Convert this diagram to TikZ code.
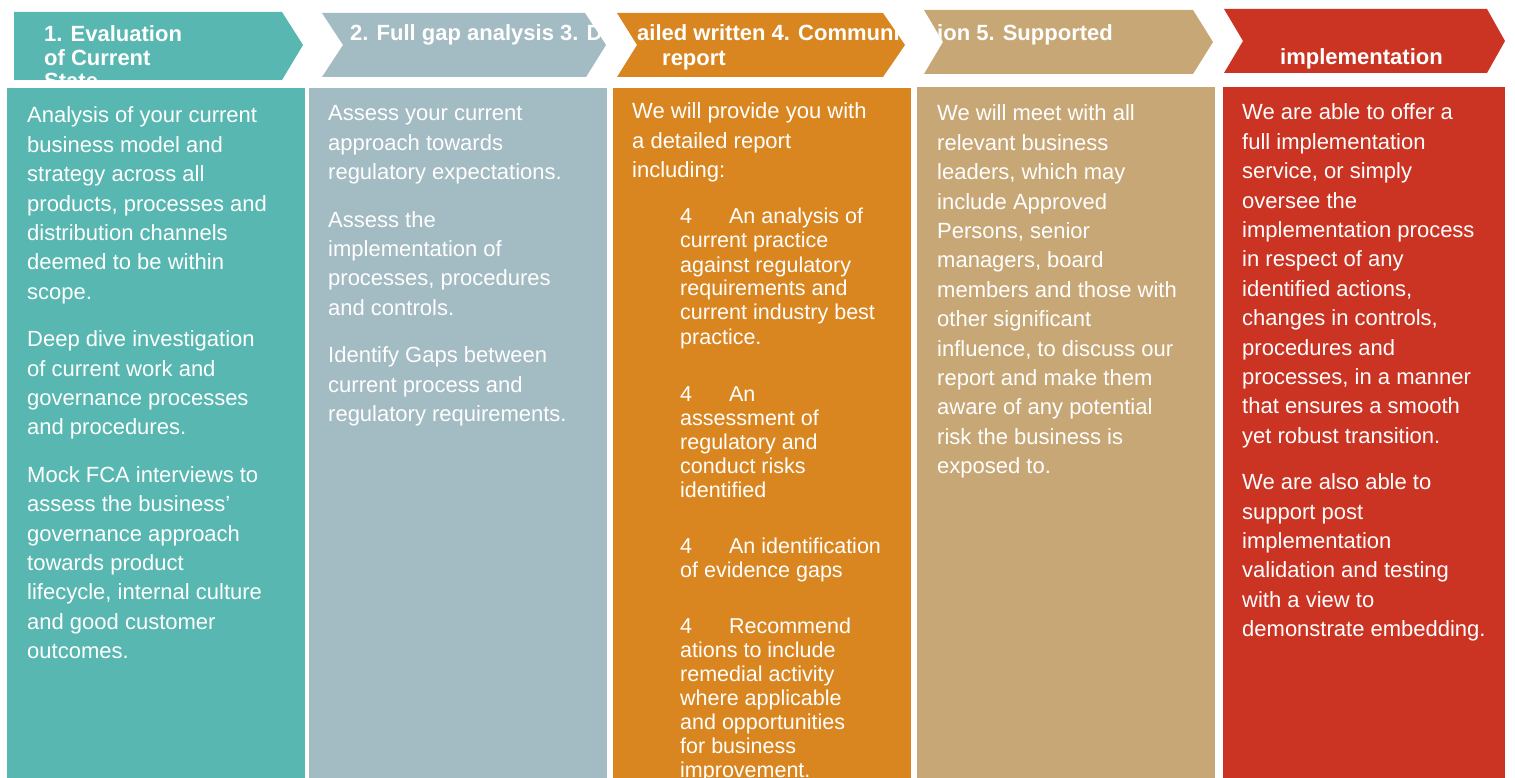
\documentclass[tikz,border=0pt]{standalone}
\usepackage{fontspec}
\setmainfont{Liberation Sans}
\definecolor{tealc}{HTML}{58B7B1}
\definecolor{greyc}{HTML}{A3BBC2}
\definecolor{orangec}{HTML}{D98621}
\definecolor{tanc}{HTML}{C8A776}
\definecolor{redc}{HTML}{CB3323}
% first line of the box sits on the node's base
\newcommand{\colbox}[1]{\parbox[t]{300pt}{\raggedright #1}}

\begin{document}
\begin{tikzpicture}[x=1pt,y=-1pt,
	hdrtxt/.style={anchor=base west, inner sep=0pt, text=white,
		font=\bfseries\fontsize{22}{23.5}\selectfont},
	bodytxt/.style={anchor=base west, inner sep=0pt, text=white,
		font=\fontsize{22}{29.4}\selectfont},
	bullettxt/.style={bodytxt, font=\fontsize{21.5}{24}\selectfont}]
	\useasboundingbox (0,0) rectangle (1515,778);

	% columns
	\fill[tealc] (7,88) rectangle (305,778);
	\fill[greyc] (309,88) rectangle (607,778);
	\fill[orangec] (613,88) rectangle (911,778);
	\fill[tanc] (917,87) rectangle (1215,778);
	\fill[redc] (1223,87) rectangle (1505,778);

	% chevrons, header text clipped to each one
	\begin{scope}
		\clip (14,12) -- (282,12) -- (303,45) -- (282,80) -- (14,80) -- cycle;
		\fill[tealc] (0,0) rectangle (320,100);
		\node[hdrtxt] (h1) at (44,42) {\colbox{1. Evaluation\\of Current\\State}};
	\end{scope}
	\begin{scope}
		\clip (322,13) -- (585,13) -- (606,45) -- (586,77) -- (322,77) -- (343,45) -- cycle;
		\fill[greyc] (300,0) rectangle (620,100);
		\node[hdrtxt] (h2) at (350,41) {2. Full gap analysis 3. D};
	\end{scope}
	\begin{scope}
		\clip (617,13) -- (883,13) -- (905,45) -- (883,77) -- (617,77) -- (637,45) -- cycle;
		\fill[orangec] (600,0) rectangle (920,100);
		\node[hdrtxt] (h3) at (637,41) {ailed written 4. Communi};
		\node[hdrtxt] (h3b) at (662,66) {report};
	\end{scope}
	\begin{scope}
		\clip (924,10) -- (1193,10) -- (1213,42) -- (1193,74) -- (924,74) -- (943,42) -- cycle;
		\fill[tanc] (900,0) rectangle (1220,100);
		\node[hdrtxt] (h4) at (937,41) {ion 5. Supported};
	\end{scope}
	\begin{scope}
		\clip (1224,9) -- (1487,9) -- (1505,41) -- (1487,73) -- (1224,73) -- (1243,41) -- cycle;
		\fill[redc] (1210,0) rectangle (1515,100);
		\node[hdrtxt] (h5) at (1280,65) {implementation};
	\end{scope}

	% column 1
	\node[bodytxt] (t1) at (27,123) {\colbox{Analysis of your current\\business model and\\strategy across all\\products, processes and\\distribution channels\\deemed to be within\\scope.\\[18pt]
		Deep dive investigation\\of current work and\\governance processes\\and procedures.\\[18pt]
		Mock FCA interviews to\\assess the business’\\governance approach\\towards product\\lifecycle, internal culture\\and good customer\\outcomes.}};

	% column 2
	\node[bodytxt] (t2) at (328,121) {\colbox{Assess your current\\approach towards\\regulatory expectations.\\[18pt]
		Assess the\\implementation of\\processes, procedures\\and controls.\\[18pt]
		Identify Gaps between\\current process and\\regulatory requirements.}};

	% column 3
	\node[bodytxt] (t3) at (632,119) {\colbox{We will provide you with\\a detailed report\\including:}};
	\node[bullettxt] (t3a) at (680,224) {\colbox{4\hspace{37pt}An analysis of\\current practice\\against regulatory\\requirements and\\current industry best\\practice.}};
	\node[bullettxt] (t3b) at (680,401) {\colbox{4\hspace{37pt}An\\assessment of\\regulatory and\\conduct risks\\identified}};
	\node[bullettxt] (t3c) at (680,553) {\colbox{4\hspace{37pt}An identification\\of evidence gaps}};
	\node[bullettxt] (t3d) at (680,633) {\colbox{4\hspace{37pt}Recommend\\ations to include\\remedial activity\\where applicable\\and opportunities\\for business\\improvement.}};

	% column 4
	\node[bodytxt] (t4) at (937,121) {\colbox{We will meet with all\\relevant business\\leaders, which may\\include Approved\\Persons, senior\\managers, board\\members and those with\\other significant\\influence, to discuss our\\report and make them\\aware of any potential\\risk the business is\\exposed to.}};

	% column 5
	\node[bodytxt] (t5) at (1242,120) {\colbox{We are able to offer a\\full implementation\\service, or simply\\oversee the\\implementation process\\in respect of any\\identified actions,\\changes in controls,\\procedures and\\processes, in a manner\\that ensures a smooth\\yet robust transition.\\[17pt]
		We are also able to\\support post\\implementation\\validation and testing\\with a view to\\demonstrate embedding.}};
\end{tikzpicture}
\end{document}
